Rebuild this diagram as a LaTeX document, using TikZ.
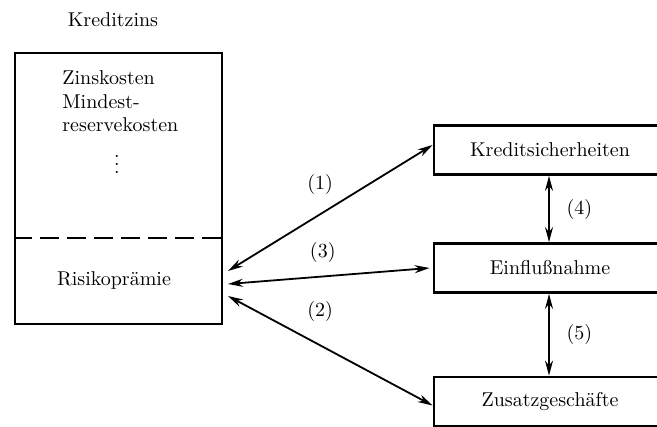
\documentclass[tikz,border=0pt]{standalone}
\usepackage{amsmath,amssymb}
\usetikzlibrary{arrows.meta, calc}
\tikzset{%
    kasten/.style={rectangle, draw, line width=1.4pt, inner sep=0pt},
    rkasten/.style={kasten, minimum width=116pt, minimum height=24.5pt},
    trenn/.style={line width=1.3pt, dash pattern=on 9.44pt off 4pt},
    pfd/.style={line width=0.9pt, {Stealth[length=7.5pt, width=4pt]}-{Stealth[length=7.5pt, width=4pt]}},
    txt/.style={inner sep=0pt, anchor=west},
}

\begin{document}
\begin{tikzpicture}[x=0.5pt, y=-0.5pt]
    \useasboundingbox (0,0) rectangle (657,427);
    % linke Seite
    \draw node (titel) at (113,20) {Kreditzins};
    \draw node[kasten, minimum width=103.5pt, minimum height=135.5pt] (zins) at (118.5,188.5) {};
    \draw node[txt] (zk) at (62,78) {Zinskosten};
    \draw node[txt] (mr1) at (62,102) {Mindest-};
    \draw node[txt] (mr2) at (62,125) {reservekosten};
    \draw node (pkt) at (117,158) {$\vdots$};
    \draw [trenn] (zins.west |- 0,238) -- (zins.east |- 0,238);
    \draw node (rp) at (114,280) {Risikoprämie};
    % rechte Seite
    \draw node[rkasten] (ks) at (550,150) {Kreditsicherheiten};
    \draw node[rkasten] (en) at (550,268) {Einflußnahme};
    \draw node[rkasten] (zg) at (550,401.5) {Zusatzgeschäfte};
    \coordinate (p1) at (228,271);
    \coordinate (p3) at (228,284);
    \coordinate (p2) at (228,296);
    \draw [pfd] (p1) -- ($(ks.west)+(0,-5)$) node[pos=0.45, above=6pt] {(1)};
    \draw [pfd] (p3) -- ($(en.west)+(-3,0)$) node[pos=0.47, above=3pt] {(3)};
    \draw [pfd] (p2) -- ($(zg.west)+(0,4)$) node[pos=0.45, above=8pt] {(2)};
    \draw [pfd] (ks.south -| 549,0) -- (en.north -| 549,0) node[midway, right=5pt] {(4)};
    \draw [pfd] (en.south -| 549,0) -- (zg.north -| 549,0) node[midway, right=5pt] {(5)};
\end{tikzpicture}
\end{document}
